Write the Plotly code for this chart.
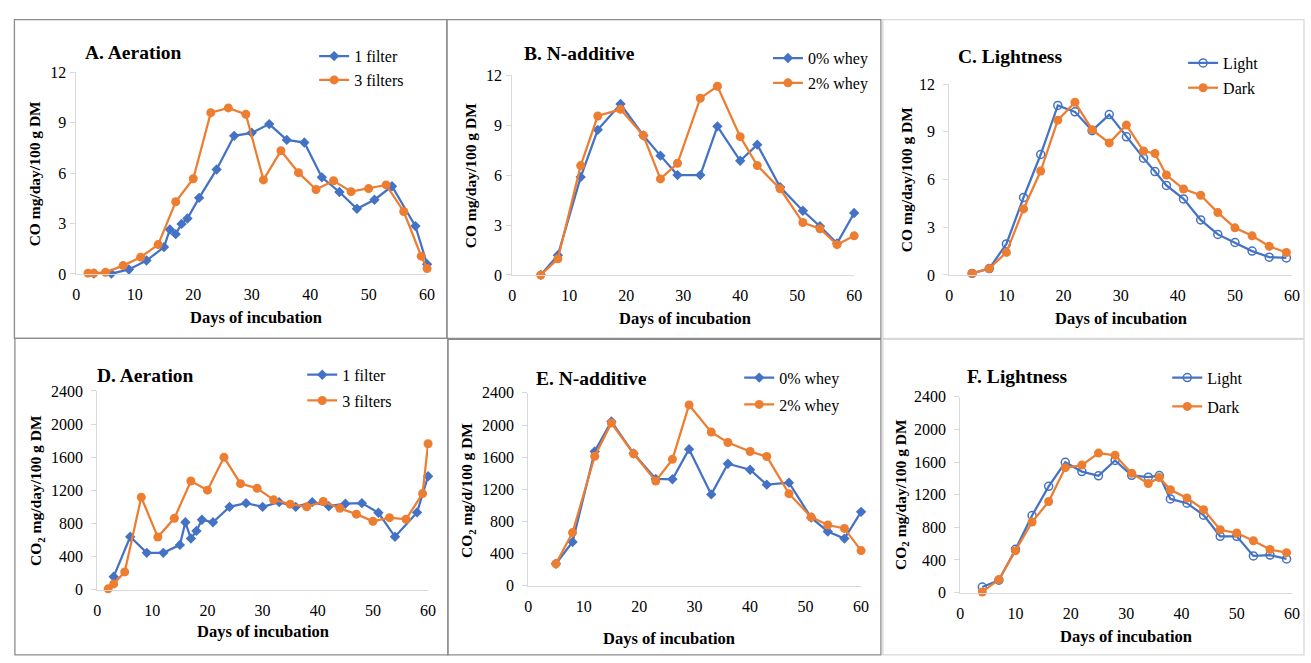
import plotly.graph_objects as go

W, H = 1311, 663

# ---------------- data ----------------
A_days_1 = [3, 6, 9, 12, 15, 16, 17, 18, 19, 21, 24, 27, 30, 33, 36, 39, 42, 45, 48, 51, 54, 58, 60]
A_co_1 = [0.03, 0.02, 0.27, 0.8, 1.6, 2.65, 2.37, 2.98, 3.3, 4.53, 6.22, 8.22, 8.4, 8.92, 7.98, 7.82, 5.75, 4.88, 3.88, 4.42, 5.22, 2.85, 0.58]
A_days_3 = [2, 3, 5, 8, 11, 14, 17, 20, 23, 26, 29, 32, 35, 38, 41, 44, 47, 50, 53, 56, 59, 60]
A_co_3 = [0.05, 0.05, 0.1, 0.5, 1.0, 1.75, 4.3, 5.67, 9.6, 9.88, 9.5, 5.6, 7.33, 6.03, 5.03, 5.55, 4.9, 5.08, 5.3, 3.72, 1.06, 0.32]

B_days = [5, 8, 12, 15, 19, 23, 26, 29, 33, 36, 40, 43, 47, 51, 54, 57, 60]
B_whey0 = [0.0, 1.19, 5.88, 8.72, 10.27, 8.38, 7.17, 6.0, 6.0, 8.93, 6.86, 7.83, 5.28, 3.86, 2.93, 1.9, 3.72]
B_whey2 = [0.0, 0.97, 6.57, 9.55, 9.95, 8.38, 5.77, 6.71, 10.62, 11.34, 8.31, 6.57, 5.18, 3.15, 2.78, 1.82, 2.35]

C_days = [4, 7, 10, 13, 16, 19, 22, 25, 28, 31, 34, 36, 38, 41, 44, 47, 50, 53, 56, 59]
C_light = [0.1, 0.4, 1.95, 4.87, 7.57, 10.65, 10.25, 9.07, 10.08, 8.68, 7.34, 6.5, 5.63, 4.78, 3.46, 2.55, 2.04, 1.5, 1.12, 1.07]
C_dark = [0.1, 0.4, 1.42, 4.15, 6.53, 9.73, 10.85, 9.13, 8.3, 9.42, 7.79, 7.64, 6.28, 5.4, 5.01, 3.92, 2.96, 2.46, 1.8, 1.41]

D_days_1 = [3, 6, 9, 12, 15, 16, 17, 18, 19, 21, 24, 27, 30, 33, 36, 39, 42, 45, 48, 51, 54, 58, 60]
D_co2_1 = [157, 639, 445, 445, 541, 814, 618, 710, 845, 814, 1000, 1045, 1000, 1057, 1000, 1057, 1008, 1038, 1045, 929, 639, 933, 1370]
D_days_3 = [2, 3, 5, 8, 11, 14, 17, 20, 23, 26, 29, 32, 35, 38, 41, 44, 47, 50, 53, 56, 59, 60]
D_co2_3 = [10, 70, 215, 1116, 635, 862, 1312, 1202, 1598, 1280, 1225, 1085, 1033, 1000, 1065, 982, 912, 826, 870, 850, 1160, 1762]

E_days = [5, 8, 12, 15, 19, 23, 26, 29, 33, 36, 40, 43, 47, 51, 54, 57, 60]
E_whey0 = [274, 545, 1672, 2045, 1645, 1330, 1325, 1700, 1137, 1518, 1444, 1258, 1283, 848, 676, 587, 920]
E_whey2 = [274, 662, 1612, 2025, 1642, 1303, 1573, 2250, 1912, 1783, 1670, 1608, 1146, 855, 756, 714, 438]

F_days = [4, 7, 10, 13, 16, 19, 22, 25, 28, 31, 34, 36, 38, 41, 44, 47, 50, 53, 56, 59]
F_light = [68, 152, 530, 945, 1302, 1597, 1483, 1431, 1620, 1437, 1415, 1435, 1148, 1096, 949, 690, 690, 450, 460, 413]
F_dark = [8, 160, 514, 865, 1116, 1531, 1563, 1710, 1683, 1463, 1336, 1411, 1260, 1160, 1017, 770, 730, 636, 528, 490]

x_ticks = [0, 10, 20, 30, 40, 50, 60]
co_ticks = [0, 3, 6, 9, 12]
co2_ticks = [0, 400, 800, 1200, 1600, 2000, 2400]

titles = ["A. Aeration", "B. N-additive", "C. Lightness", "D. Aeration", "E. N-additive", "F. Lightness"]
x_title = "Days of incubation"
y_titles = ["CO mg/day/100 g DM", "CO mg/day/100 g DM", "CO mg/day/100 g DM",
            "CO<sub>2</sub> mg/day/100 g DM", "CO<sub>2</sub> mg/d/100 g DM", "CO<sub>2</sub> mg/day/100 g DM"]

# ---------------- style / layout ----------------
BLUE = "#4472C4"
ORANGE = "#ED7D31"
FONT = "Liberation Serif"


def px(x):
    return x / W


def py(y):
    return 1 - y / H


# plot areas in pixels: (x0, x60, ytop, ybottom)
areas = [
    (73, 427, 66, 273),
    (513, 858, 69, 274),
    (954, 1300, 78, 274),
    (94, 428, 393, 597),
    (529, 865, 395, 593),
    (965, 1300, 399, 600),
]
ylabel_standoff = [1, 1, 5, 5, 5, 5]
# title positions (left x, center y)
title_pos = [(80, 46), (523, 47), (961, 50), (92, 377), (535, 380), (970, 378)]
xtitle_pos = [(254, 318), (687, 319), (1127, 319), (261, 640), (671, 647), (1132, 645)]
ytitle_pos = [(31, 170), (471, 172), (911, 176), (33, 495), (468, 495), (905, 499)]
# legend: line start x, first row center y, gap between rows
legend_pos = [(319, 50, 22), (777, 52, 25), (1196, 57, 25), (307, 377, 26), (748, 380, 27), (1180, 380, 29)]

series = [
    [("1 filter", A_days_1, A_co_1, "d"), ("3 filters", A_days_3, A_co_3, "o")],
    [("0% whey", B_days, B_whey0, "d"), ("2% whey", B_days, B_whey2, "o")],
    [("Light", C_days, C_light, "open"), ("Dark", C_days, C_dark, "o")],
    [("1 filter", D_days_1, D_co2_1, "d"), ("3 filters", D_days_3, D_co2_3, "o")],
    [("0% whey", E_days, E_whey0, "d"), ("2% whey", E_days, E_whey2, "o")],
    [("Light", F_days, F_light, "open"), ("Dark", F_days, F_dark, "o")],
]

fig = go.Figure()
layout = dict(
    width=W, height=H, margin=dict(l=0, r=0, t=0, b=0),
    paper_bgcolor="white", plot_bgcolor="white",
    font=dict(family=FONT, size=16, color="#000000"),
    annotations=[], shapes=[],
)

for i in range(6):
    n = i + 1
    xa = "xaxis" if n == 1 else f"xaxis{n}"
    ya = "yaxis" if n == 1 else f"yaxis{n}"
    xr = "x" if n == 1 else f"x{n}"
    yr = "y" if n == 1 else f"y{n}"
    lg = "legend" if n == 1 else f"legend{n}"
    x0, x1, yt, yb = areas[i]
    is_co = i < 3
    layout[xa] = dict(
        domain=[px(x0), px(x1)], anchor=yr, range=[0, 60], tickvals=x_ticks,
        showline=True, linecolor="#d9d9d9", linewidth=1, showgrid=False, zeroline=False,
        ticks="", ticklabelstandoff=6,
        tickfont=dict(family=FONT, size=16, color="#000000"), fixedrange=True,
    )
    layout[ya] = dict(
        domain=[py(yb), py(yt)], anchor=xr,
        range=[0, 12] if is_co else [0, 2400],
        tickvals=co_ticks if is_co else co2_ticks,
        showline=True, linecolor="#d9d9d9", linewidth=1, showgrid=False, zeroline=False,
        ticks="outside", ticklen=5, tickcolor="#d9d9d9", ticklabelstandoff=ylabel_standoff[i],
        tickfont=dict(family=FONT, size=16, color="#000000"), fixedrange=True,
    )
    lx, ly, gap = legend_pos[i]
    layout[lg] = dict(
        x=px(lx - 6), y=py(ly - 18), xanchor="left", yanchor="top",
        bgcolor="rgba(0,0,0,0)", borderwidth=0,
        font=dict(family=FONT, size=16, color="#000000"),
        traceorder="grouped", tracegroupgap=max(gap - 24, 0), itemwidth=30,
    )
    for j, (name, xs, ys, kind) in enumerate(series[i]):
        if kind == "d":
            marker = dict(symbol="diamond", size=8, color=BLUE, line=dict(width=0))
            color = BLUE
        elif kind == "open":
            marker = dict(symbol="circle-open", size=8, color=BLUE, line=dict(width=1.5, color=BLUE))
            color = BLUE
        else:
            marker = dict(symbol="circle", size=9, color=ORANGE, line=dict(width=0))
            color = ORANGE
        fig.add_trace(go.Scatter(
            x=xs, y=ys, name=name, mode="lines+markers",
            line=dict(color=color, width=2.25), marker=marker,
            xaxis=xr, yaxis=yr, legend=lg, legendgroup=f"g{n}_{j}",
            cliponaxis=False, hoverinfo="skip",
        ))
    tx, ty = title_pos[i]
    layout["annotations"].append(dict(
        text=f"<b>{titles[i]}</b>", x=px(tx), y=py(ty), xref="paper", yref="paper",
        xanchor="left", yanchor="middle", showarrow=False,
        font=dict(family=FONT, size=19.5, color="#000000"),
    ))
    ax_, ay_ = xtitle_pos[i]
    layout["annotations"].append(dict(
        text=f"<b>{x_title}</b>", x=px(ax_), y=py(ay_), xref="paper", yref="paper",
        xanchor="center", yanchor="middle", showarrow=False,
        font=dict(family=FONT, size=16.5, color="#000000"),
    ))
    yx, yy = ytitle_pos[i]
    layout["annotations"].append(dict(
        text=f"<b>{y_titles[i]}</b>", x=px(yx), y=py(yy), xref="paper", yref="paper",
        xanchor="center", yanchor="middle", showarrow=False, textangle=-90,
        font=dict(family=FONT, size=15.5, color="#000000"),
    ))

# panel borders
dark = "#8c8c8c"
light = "#d9d9d9"
borders = [
    (10.5, 12, 447, 339, dark),
    (447, 12, 885, 339, dark),
    (887, 12, 1312, 339, light),
    (11, 339, 448, 664, dark),
    (448, 340, 885, 664, dark),
    (887, 340, 1312, 664, light),
]
for (bx0, by0, bx1, by1, c) in borders:
    layout["shapes"].append(dict(
        type="rect", xref="paper", yref="paper",
        x0=px(bx0), x1=px(bx1), y0=py(by1), y1=py(by0),
        line=dict(color=c, width=1.3), fillcolor="rgba(0,0,0,0)", layer="below",
    ))

fig.update_layout(**layout)
fig.write_html(
    "out.html",
    config={"displayModeBar": False},
    post_script="document.body.style.margin='0';document.body.style.overflow='hidden';",
)
